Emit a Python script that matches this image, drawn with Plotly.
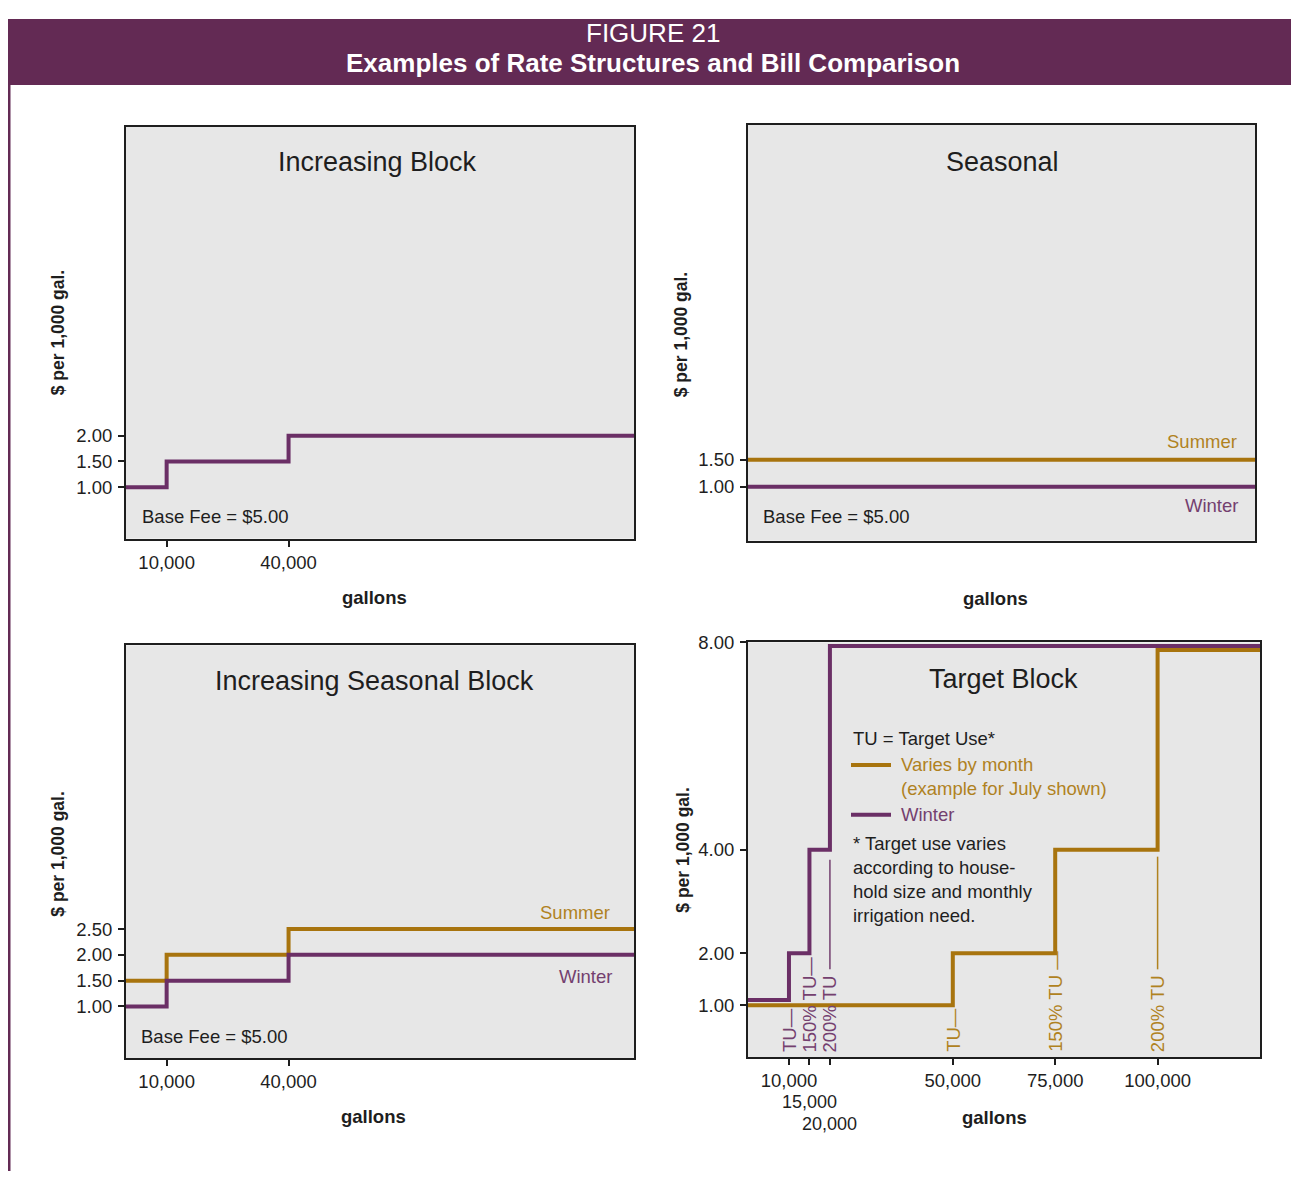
import plotly.graph_objects as go

# Figure placement inside the window (8px page margin) and observed vertical mapping.
OFFX = 8
FW, FH = 1283, 1163
VA, VB = 8.8, 0.9936  # screen_y = VA + VB * page_y

# ---------------- data ----------------
gallons_ib = [0, 10000, 40000, 125000]
rate_ib = [1.00, 1.50, 2.00, 2.00]

gallons_s = [0, 125000]
summer_s = [1.50, 1.50]
winter_s = [1.00, 1.00]

gallons_isb = [0, 10000, 40000, 125000]
summer_isb = [1.50, 2.00, 2.50, 2.50]
winter_isb = [1.00, 1.50, 2.00, 2.00]

gallons_tb_winter = [0, 10000, 15000, 20000, 125000]
winter_tb = [1.10, 2.00, 4.00, 7.93, 7.93]
gallons_tb_summer = [0, 50000, 75000, 100000, 125000]
summer_tb = [1.00, 2.00, 4.00, 7.85, 7.85]

ib_xticks = [10000, 40000]
ib_xlabels = ["10,000", "40,000"]
ib_yticks = [1.0, 1.5, 2.0]
s_yticks = [1.0, 1.5]
isb_yticks = [1.0, 1.5, 2.0, 2.5]
tb_yticks = [1.0, 2.0, 4.0, 8.0]
tb_xticks = [10000, 15000, 20000, 50000, 75000, 100000]
tb_xlabels = ["10,000", "", "", "50,000", "75,000", "100,000"]
tb_stacked = [(15000, "15,000"), (20000, "20,000")]

tu_winter_x = [10000, 15000, 20000]
tu_winter_labels = ["TU\u2014", "150% TU\u2014", "200% TU"]
tu_summer_x = [50000, 75000, 100000]
tu_summer_labels = ["TU\u2014", "150% TU \u2014", "200% TU"]

PURPLE = "#6b2f66"
GOLD = "#a8740e"
PURPLE_T = "#74406f"
GOLD_T = "#b0821f"
HEADER = "#632a54"
FONT = "Liberation Sans, Arial, sans-serif"
INK = "#1e1e1e"
FS = 18.5


def px(x):
    return (x - OFFX) / FW


def py(y):
    fig_y = (y - VA) / VB - 8
    return 1 - fig_y / FH


fig = go.Figure()

# Panel 1: Increasing Block
fig.add_trace(go.Scatter(x=gallons_ib, y=rate_ib, mode="lines", line_shape="hv",
                         line=dict(color=PURPLE, width=4), xaxis="x", yaxis="y"))
# Panel 2: Seasonal
fig.add_trace(go.Scatter(x=gallons_s, y=summer_s, mode="lines", line_shape="hv",
                         line=dict(color=GOLD, width=4), xaxis="x2", yaxis="y2"))
fig.add_trace(go.Scatter(x=gallons_s, y=winter_s, mode="lines", line_shape="hv",
                         line=dict(color=PURPLE, width=4), xaxis="x2", yaxis="y2"))
# Panel 3: Increasing Seasonal Block
fig.add_trace(go.Scatter(x=gallons_isb, y=summer_isb, mode="lines", line_shape="hv",
                         line=dict(color=GOLD, width=4), xaxis="x3", yaxis="y3"))
fig.add_trace(go.Scatter(x=gallons_isb, y=winter_isb, mode="lines", line_shape="hv",
                         line=dict(color=PURPLE, width=4), xaxis="x3", yaxis="y3"))
# Panel 4: Target Block
fig.add_trace(go.Scatter(x=gallons_tb_summer, y=summer_tb, mode="lines", line_shape="hv",
                         line=dict(color=GOLD, width=4), xaxis="x4", yaxis="y4"))
fig.add_trace(go.Scatter(x=gallons_tb_winter, y=winter_tb, mode="lines", line_shape="hv",
                         line=dict(color=PURPLE, width=4), xaxis="x4", yaxis="y4"))

common_ax = dict(showline=True, mirror=True, linecolor=INK, linewidth=2,
                 showgrid=False, zeroline=False, ticks="outside", tickcolor=INK,
                 tickwidth=1.5, ticklen=6, tickfont=dict(family=FONT, size=FS, color=INK),
                 fixedrange=True, tickangle=0)


def xax(domain, tickvals, ticktext, anchor):
    d = dict(common_ax)
    d.update(domain=domain, range=[0, 125000], tickmode="array", tickvals=tickvals,
             ticktext=ticktext, anchor=anchor, ticklabelstandoff=0)
    return d


def yax(domain, tickvals, anchor, rng=(0, 8)):
    d = dict(common_ax)
    d.update(domain=domain, range=list(rng), tickmode="array", tickvals=tickvals,
             ticktext=[f"{v:.2f}" for v in tickvals], anchor=anchor, ticklabelstandoff=2)
    return d


fig.update_layout(
    xaxis=xax([px(126), px(634)], ib_xticks, ib_xlabels, "y"),
    yaxis=yax([py(538), py(125)], ib_yticks, "x"),
    xaxis2=xax([px(748), px(1255)], [], [], "y2"),
    yaxis2=yax([py(540), py(123)], s_yticks, "x2", (0, 7.7)),
    xaxis3=xax([px(126), px(634)], ib_xticks, ib_xlabels, "y3"),
    yaxis3=yax([py(1059), py(645)], isb_yticks, "x3"),
    xaxis4=xax([px(748), px(1260)], tb_xticks, tb_xlabels, "y4"),
    yaxis4=yax([py(1058), py(642)], tb_yticks, "x4"),
)

ann = []


def text(x, y, s, size=FS, color=INK, xanchor="center", yanchor="middle", bold=False,
         angle=0, align="center"):
    if bold:
        s = f"<b>{s}</b>"
    ann.append(dict(x=px(x), y=py(y), xref="paper", yref="paper", text=s, showarrow=False,
                    xanchor=xanchor, yanchor=yanchor, textangle=angle, align=align,
                    font=dict(family=FONT, size=size, color=color)))


# header
text(653, 31, "FIGURE 21", size=26, color="white")
text(653, 61, "Examples of Rate Structures and Bill Comparison", size=26, color="white", bold=True)

# panel titles
text(377, 160, "Increasing Block", size=27)
text(1002, 160, "Seasonal", size=27)
text(374, 681, "Increasing Seasonal Block", size=27)
text(1003, 679, "Target Block", size=27)

# base fee
text(140, 516, "Base Fee = $5.00", xanchor="left")
text(761, 516, "Base Fee = $5.00", xanchor="left")
text(139, 1037, "Base Fee = $5.00", xanchor="left")

# summer / winter labels
text(1239, 441, "Summer", color=GOLD_T, xanchor="right")
text(1240, 505, "Winter", color=PURPLE_T, xanchor="right")
text(612, 913, "Summer", color=GOLD_T, xanchor="right")
text(614, 977, "Winter", color=PURPLE_T, xanchor="right")

# axis titles
for (x, y) in [(58, 331), (681, 333), (58, 854), (683, 850)]:
    text(x, y, "$ per 1,000 gal.", size=17.5, bold=True, angle=-90)
for (x, y) in [(374, 597), (995, 598), (373, 1118), (994, 1119)]:
    text(x, y, "gallons", size=FS, bold=True)

# stacked tick labels of the Target Block axis
for (xv, lab), yy in zip(tb_stacked, [1103, 1125]):
    ann.append(dict(x=xv, y=py(yy), xref="x4", yref="paper", text=lab, showarrow=False,
                    xanchor="center", yanchor="middle", borderpad=0,
                    font=dict(family=FONT, size=18, color=INK)))

# target block legend
text(851, 738, "TU = Target Use*", xanchor="left")
text(899, 777, "Varies by month<br>(example for July shown)", color=GOLD_T, xanchor="left", align="left")
text(899, 815, "Winter", color=PURPLE_T, xanchor="left")
text(851, 880, "* Target use varies<br>according to house-<br>hold size and monthly<br>irrigation need.",
     xanchor="left", align="left")

# TU markers (rotated labels tied to the gallons axis)
for xv, lab in zip(tu_winter_x, tu_winter_labels):
    ann.append(dict(x=xv, y=py(1054), xref="x4", yref="paper", text=lab, showarrow=False,
                    textangle=-90, xanchor="center", yanchor="bottom", borderpad=0,
                    font=dict(family=FONT, size=FS, color=PURPLE_T)))
for xv, lab in zip(tu_summer_x, tu_summer_labels):
    ann.append(dict(x=xv, y=py(1054), xref="x4", yref="paper", text=lab, showarrow=False,
                    textangle=-90, xanchor="center", yanchor="bottom", borderpad=0,
                    font=dict(family=FONT, size=FS, color=GOLD_T)))

shapes = [
    dict(type="rect", xref="paper", yref="paper", x0=0, x1=1.0, y0=py(83), y1=1.0,
         fillcolor=HEADER, line=dict(width=0), layer="below"),
    dict(type="line", xref="paper", yref="paper", x0=px(9), x1=px(9), y0=py(83), y1=0,
         line=dict(color=HEADER, width=3)),
    # legend samples
    dict(type="line", xref="paper", yref="paper", x0=px(851), x1=px(891), y0=py(765), y1=py(765),
         line=dict(color=GOLD, width=4)),
    dict(type="line", xref="paper", yref="paper", x0=px(851), x1=px(891), y0=py(815), y1=py(815),
         line=dict(color=PURPLE, width=4)),
    # 200% TU leader lines
    dict(type="line", xref="x4", yref="paper", x0=tu_winter_x[2], x1=tu_winter_x[2],
         y0=py(970), y1=py(860), line=dict(color=PURPLE_T, width=1.5)),
    dict(type="line", xref="x4", yref="paper", x0=tu_summer_x[2], x1=tu_summer_x[2],
         y0=py(970), y1=py(857), line=dict(color=GOLD_T, width=1.5)),
]

fig.update_layout(
    width=FW, height=FH, autosize=False,
    margin=dict(l=0, r=0, t=0, b=0),
    paper_bgcolor="white", plot_bgcolor="#e7e7e7",
    showlegend=False,
    annotations=ann, shapes=shapes,
    font=dict(family=FONT),
)

fig.write_html("out.html")
